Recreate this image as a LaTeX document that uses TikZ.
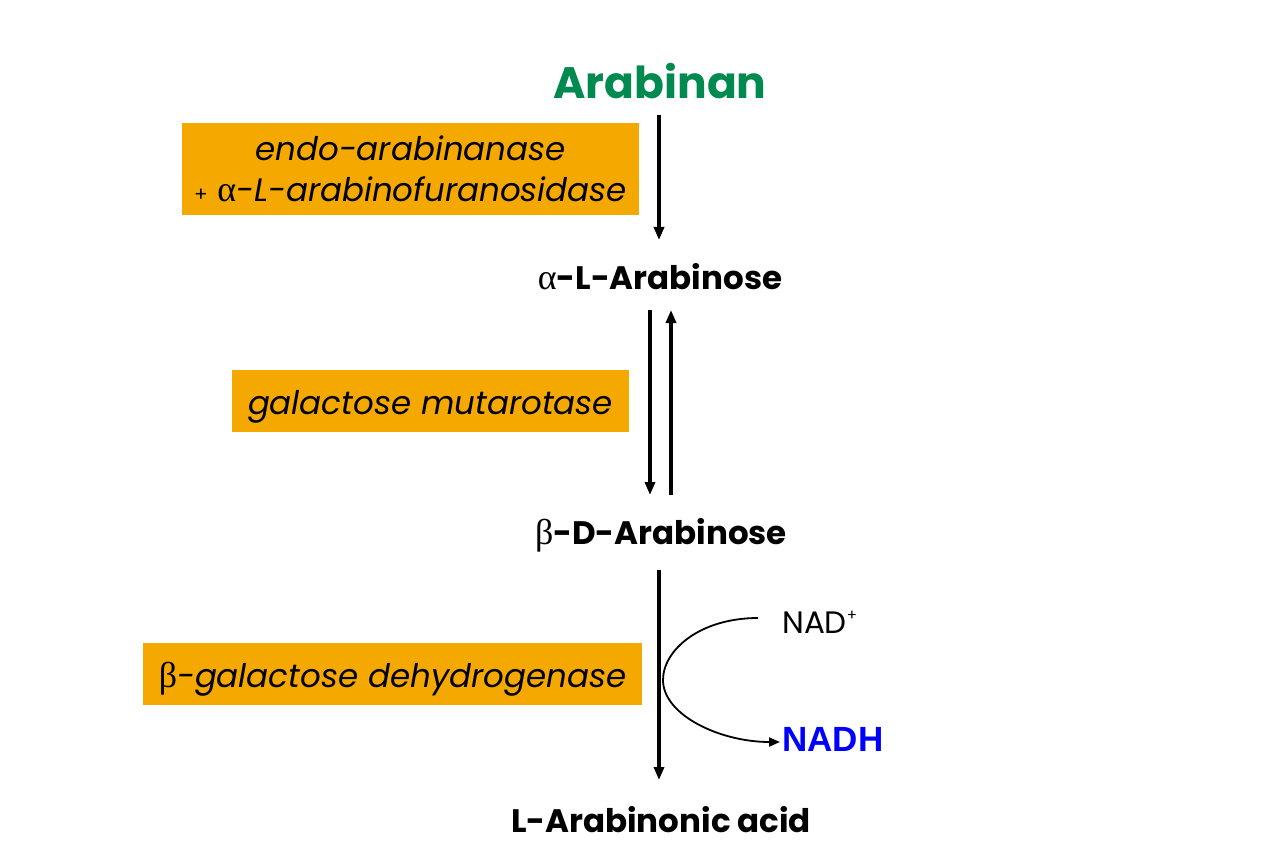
\documentclass[tikz,border=0pt]{standalone}
\usepackage{fontspec}
\setmainfont{Poppins}
\newfontfamily\grk{Liberation Serif}
\newfontfamily\arial{Liberation Sans}
\usetikzlibrary{arrows.meta}
\definecolor{enzorange}{HTML}{F5A800}
\definecolor{arabgreen}{HTML}{008A4F}
\definecolor{nadblue}{HTML}{0000FF}
\tikzset{
  enz/.style={fill=enzorange, inner sep=0pt, font=\fontsize{32.5}{42}\selectfont\itshape, align=center},
  enzone/.style={enz, minimum height=62pt, text height=34pt, text depth=8pt},
  met/.style={font=\fontsize{32.5}{36}\selectfont\bfseries, inner sep=0pt},
  rx/.style={line width=3.4pt, -{Triangle[length=13pt,width=10pt]}},
}
\begin{document}
\begin{tikzpicture}[x=1pt,y=-1pt]
\useasboundingbox[fill=white] (0,0) rectangle (1280,853);
% enzyme boxes
\node[enz, minimum width=457pt, minimum height=92pt] (e1) at (410.5,169) {endo-arabinanase\\[-1pt]{\fontsize{20}{20}\selectfont\upshape +} {\grk\upshape\fontsize{36}{36}\selectfont α}-L-arabinofuranosidase};
\node[enzone, minimum width=397pt] (e2) at (430.5,401) {galactose mutarotase};
\node[enzone, minimum width=499pt] (e3) at (392.5,674) {{\grk\upshape\fontsize{36}{36}\selectfont β}-galactose dehydrogenase};
% metabolites
\node[font=\fontsize{44}{50}\selectfont\bfseries, text=arabgreen, inner sep=0pt] (arabinan) at (660,81) {Arabinan};
\node[met] (aLA) at (660,277) {{\grk\mdseries\fontsize{36}{36}\selectfont α}-L-Arabinose};
\node[met] (bDA) at (661,535) {{\grk\mdseries\fontsize{36}{36}\selectfont β}-D-Arabinose};
\node[met] (LAA) at (661,820) {L-Arabinonic acid};
\node[font=\fontsize{31}{32}\selectfont, inner sep=0pt, anchor=west] (nad) at (782,622) {NAD\raisebox{13pt}{\fontsize{15}{15}\selectfont +}};
\node[font=\arial\fontsize{35}{36}\selectfont\bfseries, text=nadblue, inner sep=0pt, anchor=west] (nadh) at (782,739) {NADH};
% coordinates
\coordinate (a1s) at (659,115);
\coordinate (a1e) at (659,240);
\coordinate (a2s) at (650,310);
\coordinate (a2e) at (650,495);
\coordinate (a3s) at (671,495);
\coordinate (a3e) at (671,310);
\coordinate (a4s) at (659,570);
\coordinate (a4e) at (659,780);
\coordinate (cs) at (758,618);
\coordinate (cm) at (663,680);
\coordinate (ce) at (780,742);
% arrows
\draw[rx] (a1s) -- (a1e);
\draw[rx] (a2s) -- (a2e);
\draw[rx] (a3s) -- (a3e);
\draw[rx] (a4s) -- (a4e);
\draw[line width=1.8pt, -{Triangle[length=11pt,width=9pt]}] (cs) .. controls (700,618) and (663,650) .. (cm) .. controls (663,715) and (720,742) .. (ce);
\end{tikzpicture}
\end{document}
